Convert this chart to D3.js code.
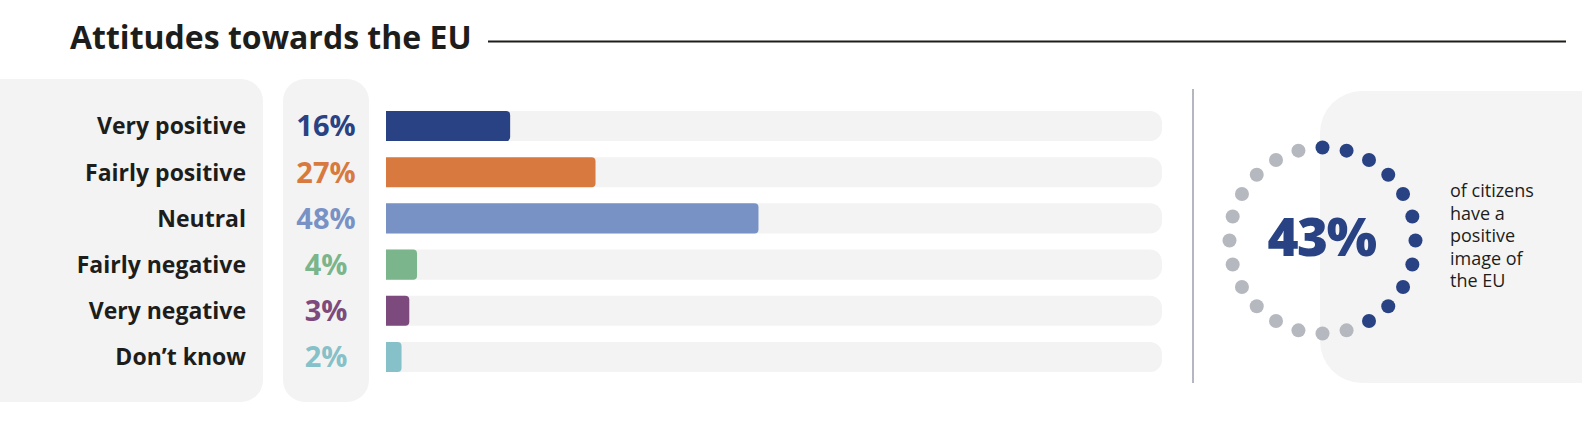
<!DOCTYPE html>
<html>
<head>
<meta charset="utf-8">
<script src="https://cdn.jsdelivr.net/npm/d3@7"></script>
<style>
  html, body { margin: 0; padding: 0; background: #fff; }
  svg { display: block; font-family: "Open Sans", sans-serif; }
</style>
</head>
<body>
<svg id="chart" width="1582" height="430"></svg>
<script>
const title = "Attitudes towards the EU";
const categories = ["Very positive", "Fairly positive", "Neutral", "Fairly negative", "Very negative", "Don\u2019t know"];
const values = [16, 27, 48, 4, 3, 2];
const colors = ["#284283", "#d87a40", "#7892c6", "#7bb58c", "#7c4a7c", "#86c0c8"];
const positiveShare = 43;
const dotCount = 24;
const sideText = ["of citizens", "have a", "positive", "image of", "the EU"];

const svg = d3.select("#chart");

// Title and rule
svg.append("text").attr("x", 70).attr("y", 49)
  .attr("font-size", 32).attr("font-weight", 700).attr("fill", "#1d1d1b")
  .text(title);
svg.append("line").attr("x1", 488).attr("x2", 1566).attr("y1", 41.5).attr("y2", 41.5)
  .attr("stroke", "#1d1d1b").attr("stroke-width", 2);

// Background panels
svg.append("rect").attr("x", -30).attr("y", 79).attr("width", 293).attr("height", 323)
  .attr("rx", 22).attr("fill", "#f3f3f3");
svg.append("rect").attr("x", 283).attr("y", 79).attr("width", 86).attr("height", 323)
  .attr("rx", 22).attr("fill", "#f3f3f3");
svg.append("rect").attr("x", 1320).attr("y", 91).attr("width", 320).attr("height", 292)
  .attr("rx", 42).attr("fill", "#f4f4f4");

// Scales
const y = d3.scaleBand().domain(categories).range([111, 372]).paddingInner(0.348).paddingOuter(0);
const x = d3.scaleLinear().domain([0, 100]).range([386, 1162]);

function rightRounded(x0, y0, w, h, r) {
  r = Math.min(r, w, h / 2);
  return `M${x0},${y0}H${x0 + w - r}A${r},${r} 0 0 1 ${x0 + w},${y0 + r}V${y0 + h - r}A${r},${r} 0 0 1 ${x0 + w - r},${y0 + h}H${x0}Z`;
}

const rows = svg.append("g").selectAll("g").data(categories).join("g");

// tracks
rows.append("path")
  .attr("d", d => rightRounded(x(0), y(d), x(100) - x(0), y.bandwidth(), 12))
  .attr("fill", "#f3f3f3");
// bars
rows.append("path")
  .attr("d", (d, i) => rightRounded(x(0), y(d), x(values[i]) - x(0), y.bandwidth(), 4))
  .attr("fill", (d, i) => colors[i]);
// category labels
rows.append("text")
  .attr("x", 246).attr("y", d => y(d) + y.bandwidth() / 2).attr("dy", "0.36em")
  .attr("text-anchor", "end").attr("font-size", 23).attr("font-weight", 700).attr("fill", "#1d1d1b")
  .text(d => d);
// value labels
rows.append("text")
  .attr("x", 326).attr("y", d => y(d) + y.bandwidth() / 2).attr("dy", "0.36em")
  .attr("text-anchor", "middle").attr("font-size", 29).attr("font-weight", 700)
  .attr("fill", (d, i) => colors[i])
  .text((d, i) => values[i] + "%");

// divider
svg.append("line").attr("x1", 1193).attr("x2", 1193).attr("y1", 89).attr("y2", 383)
  .attr("stroke", "#b4b7bf").attr("stroke-width", 2);

// dot ring
const cx = 1322.5, cy = 240.5, R = 93;
const filled = Math.ceil(positiveShare / 100 * dotCount);
const ang = d3.scaleLinear().domain([0, dotCount]).range([0, 2 * Math.PI]);
svg.append("g").selectAll("circle").data(d3.range(dotCount)).join("circle")
  .attr("cx", i => cx + R * Math.sin(ang(i)))
  .attr("cy", i => cy - R * Math.cos(ang(i)))
  .attr("r", 7)
  .attr("fill", i => i < filled ? "#284283" : "#b5b8bf");

svg.append("text").attr("x", cx - 1).attr("y", 256)
  .attr("text-anchor", "middle").attr("font-size", 53).attr("font-weight", 800)
  .attr("fill", "#284283").attr("letter-spacing", -1.5)
  .text(positiveShare + "%");

svg.append("g").selectAll("text").data(sideText).join("text")
  .attr("x", 1450).attr("y", (d, i) => 197 + i * 22.5)
  .attr("font-size", 18).attr("fill", "#1d1d1b")
  .text(d => d);
</script>
</body>
</html>
